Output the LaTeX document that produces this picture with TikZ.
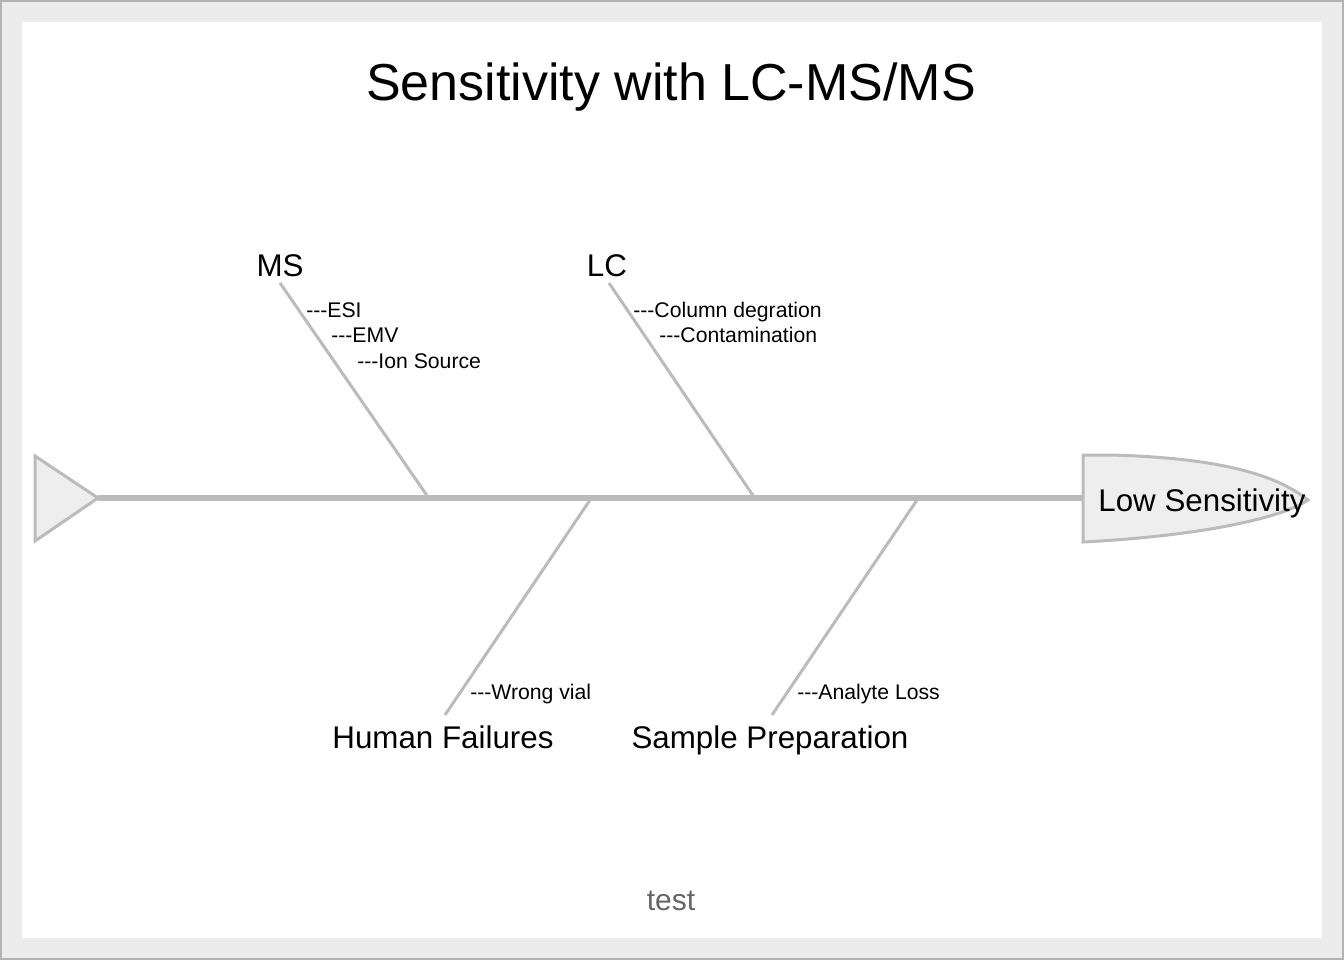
\documentclass[tikz,border=0pt]{standalone}
\usepackage{fontspec}
\setmainfont{Liberation Sans}[Ligatures=TeXOff]
\definecolor{bonegray}{HTML}{BBBBBB}
\definecolor{framegray}{HTML}{ECECEC}
\definecolor{edgegray}{HTML}{B4B4B4}
\definecolor{headfill}{HTML}{EEEEEE}
\definecolor{testgray}{HTML}{666666}
\tikzset{
  bone/.style={draw=bonegray, line width=2.25pt},
  spine/.style={draw=bonegray, line width=4.5pt},
  cat/.style={font=\fontsize{23.5}{26}\selectfont, inner sep=0pt, anchor=base},
  cause/.style={font=\fontsize{15.9}{18}\selectfont, inner sep=0pt, anchor=base west},
}
\begin{document}
\begin{tikzpicture}[x=0.75pt, y=-0.75pt]
\useasboundingbox (0,0) rectangle (1344,960);
% frame
\fill[edgegray] (0,0) rectangle (1344,960);
\fill[framegray] (2,2) rectangle (1342,958);
\fill[white] (22,22) rectangle (1322,938);
% title
\node[font=\fontsize{39}{44}\selectfont, inner sep=0pt, anchor=base] (title) at (671,100) {Sensitivity with LC-MS/MS};
% coordinates
\coordinate (tailtip) at (98,498);
\coordinate (headL) at (1084,498);
\coordinate (msTop) at (280,283);
\coordinate (msBot) at (428,497);
\coordinate (lcTop) at (609,283);
\coordinate (lcBot) at (754,497);
\coordinate (hfTop) at (590,500);
\coordinate (hfBot) at (445,715);
\coordinate (spTop) at (917,500);
\coordinate (spBot) at (772,715);
% spine
\draw[spine] (tailtip) -- (headL);
% tail
\draw[draw=bonegray, fill=headfill, line width=2.25pt, line join=miter] (35,456) -- (tailtip) -- (35,541) -- cycle;
% head
\draw[draw=bonegray, fill=headfill, line width=2.25pt] (1083,455) -- (1110,455) .. controls (1230,458) and (1280,478) .. (1308,500) .. controls (1282,518) and (1200,536) .. (1083,542) -- cycle;
\node[cat] (head) at (1202,511) {Low Sensitivity};
% bones
\draw[bone] (msTop) -- (msBot);
\draw[bone] (lcTop) -- (lcBot);
\draw[bone] (hfTop) -- (hfBot);
\draw[bone] (spTop) -- (spBot);
% category labels
\node[cat] (ms) at (280,276) {MS};
\node[cat] (lc) at (607,276) {LC};
\node[cat] (hf) at (443,748) {Human Failures};
\node[cat] (sp) at (770,748) {Sample Preparation};
% causes
\node[cause] (esi) at (306,317) {---ESI};
\node[cause] (emv) at (331,342) {---EMV};
\node[cause] (ion) at (357,368) {---Ion Source};
\node[cause] (col) at (633,317) {---Column degration};
\node[cause] (con) at (659,342) {---Contamination};
\node[cause] (wv) at (470,699) {---Wrong vial};
\node[cause] (al) at (797,699) {---Analyte Loss};
% footer
\node[font=\fontsize{22.5}{26}\selectfont, text=testgray, inner sep=0pt, anchor=base] (test) at (671,910) {test};
\end{tikzpicture}
\end{document}
